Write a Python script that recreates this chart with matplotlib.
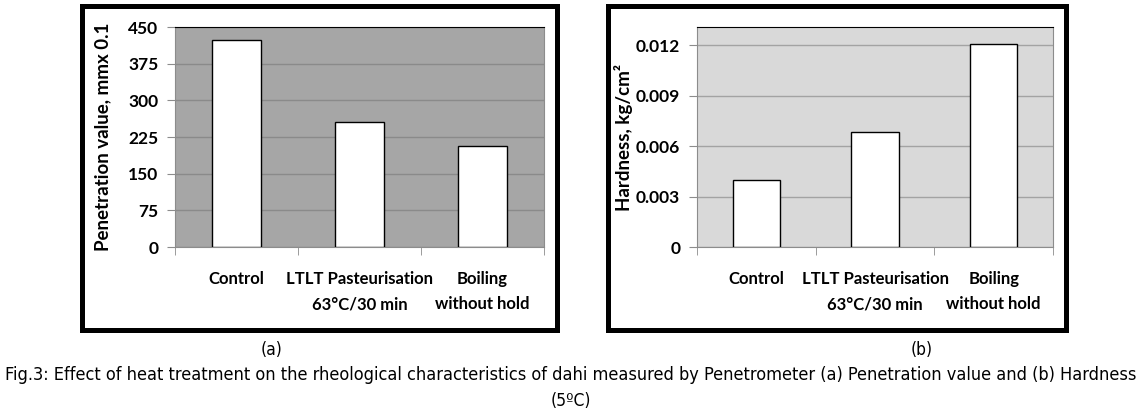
import numpy as np
import matplotlib
matplotlib.use("Agg")
import matplotlib.pyplot as plt
from matplotlib.patches import Rectangle

# data
categories = ["Control", "LTLT Pasteurisation\n63\u00b0C/30 min", "Boiling\nwithout hold"]
penetration = [423, 256, 206]          # mm x 0.1
hardness = [0.0040, 0.00685, 0.01205]  # kg/cm2
pen_ticks = [0, 75, 150, 225, 300, 375, 450]
hard_ticks = [0, 0.003, 0.006, 0.009, 0.012]
hard_ticklabels = ["0", "0.003", "0.006", "0.009", "0.012"]

W, H = 1142, 415
plt.rcParams.update({"font.family": ["Lato", "DejaVu Sans"], "font.size": 11.5})

fig = plt.figure(figsize=(W / 100, H / 100), dpi=100)


def px_axes(x0, x1, y0, y1):
    return fig.add_axes([x0 / W, 1 - y1 / H, (x1 - x0) / W, (y1 - y0) / H])


def panel(ax, vals, ticks, ticklabels, ylim, bg, grid, ylabel, labelpad):
    x = np.arange(len(vals))
    ax.set_facecolor(bg)
    ax.bar(x, vals, width=0.4, color="white", edgecolor="black", lw=1, zorder=3)
    ax.set_xlim(-0.5, len(vals) - 0.5)
    ax.set_ylim(*ylim)
    ax.set_yticks(ticks)
    ax.set_yticklabels(ticklabels, fontweight="bold", fontsize=12.5)
    ax.yaxis.grid(True, color=grid, lw=1, zorder=0)
    ax.set_axisbelow(True)
    ax.set_xticks(x)
    ax.set_xticklabels(categories, fontweight="bold", fontsize=12, linespacing=1.75)
    ax.tick_params(axis="x", which="major", length=0, pad=17)
    ax.set_xticks(np.arange(-0.5, len(vals)), minor=True)
    ax.tick_params(axis="x", which="minor", length=6, color="#8c8c8c")
    ax.tick_params(axis="y", length=6, color="#8c8c8c", pad=6)
    for s in ["left", "bottom", "right"]:
        ax.spines[s].set_color("#8c8c8c")
    ax.spines["top"].set_color("black")
    ax.set_ylabel(ylabel, fontweight="bold", fontsize=13.5, labelpad=labelpad)


ax1 = px_axes(175, 544, 27, 247)
panel(ax1, penetration, pen_ticks, [str(t) for t in pen_ticks], (0, 450),
      "#a6a6a6", "#8a8a8a", "Penetration value, mmx 0.1", 12)

ax2 = px_axes(697, 1053, 27, 247)
panel(ax2, hardness, hard_ticks, hard_ticklabels, (0, 0.01307),
      "#d9d9d9", "#a3a3a3", "Hardness, kg/cm\u00b2", 2)

# black frames around each chart
lw_pt = 5 * 72 / 100
for x0, x1 in [(81.5, 556.5), (607.5, 1065.5)]:
    fig.patches.append(Rectangle((x0 / W, 1 - 329.5 / H), (x1 - x0) / W, (329.5 - 6.5) / H,
                                 transform=fig.transFigure, fill=False,
                                 edgecolor="black", lw=lw_pt))

cap = dict(family=["DejaVu Sans"], stretch="condensed", fontsize=12.5, ha="center", va="center")
fig.text(272 / W, 1 - 350 / H, "(a)", **cap)
fig.text(922 / W, 1 - 350 / H, "(b)", **cap)
line1 = fig.text(571 / W, 1 - 375 / H,
                 "Fig.3: Effect of heat treatment on the rheological characteristics of dahi measured by "
                 "Penetrometer (a) Penetration value and (b) Hardness", **cap)
fig.text(571 / W, 1 - 401 / H, "(5\u00baC)", **cap)

# enlarge / shrink the long caption line so it spans the width like the original
r = fig.canvas.get_renderer()
while line1.get_window_extent(r).width < 1130:
    line1.set_fontsize(line1.get_fontsize() + 0.25)
while line1.get_window_extent(r).width > 1138:
    line1.set_fontsize(line1.get_fontsize() - 0.25)

fig.savefig("out.png", dpi=100, facecolor="white")
